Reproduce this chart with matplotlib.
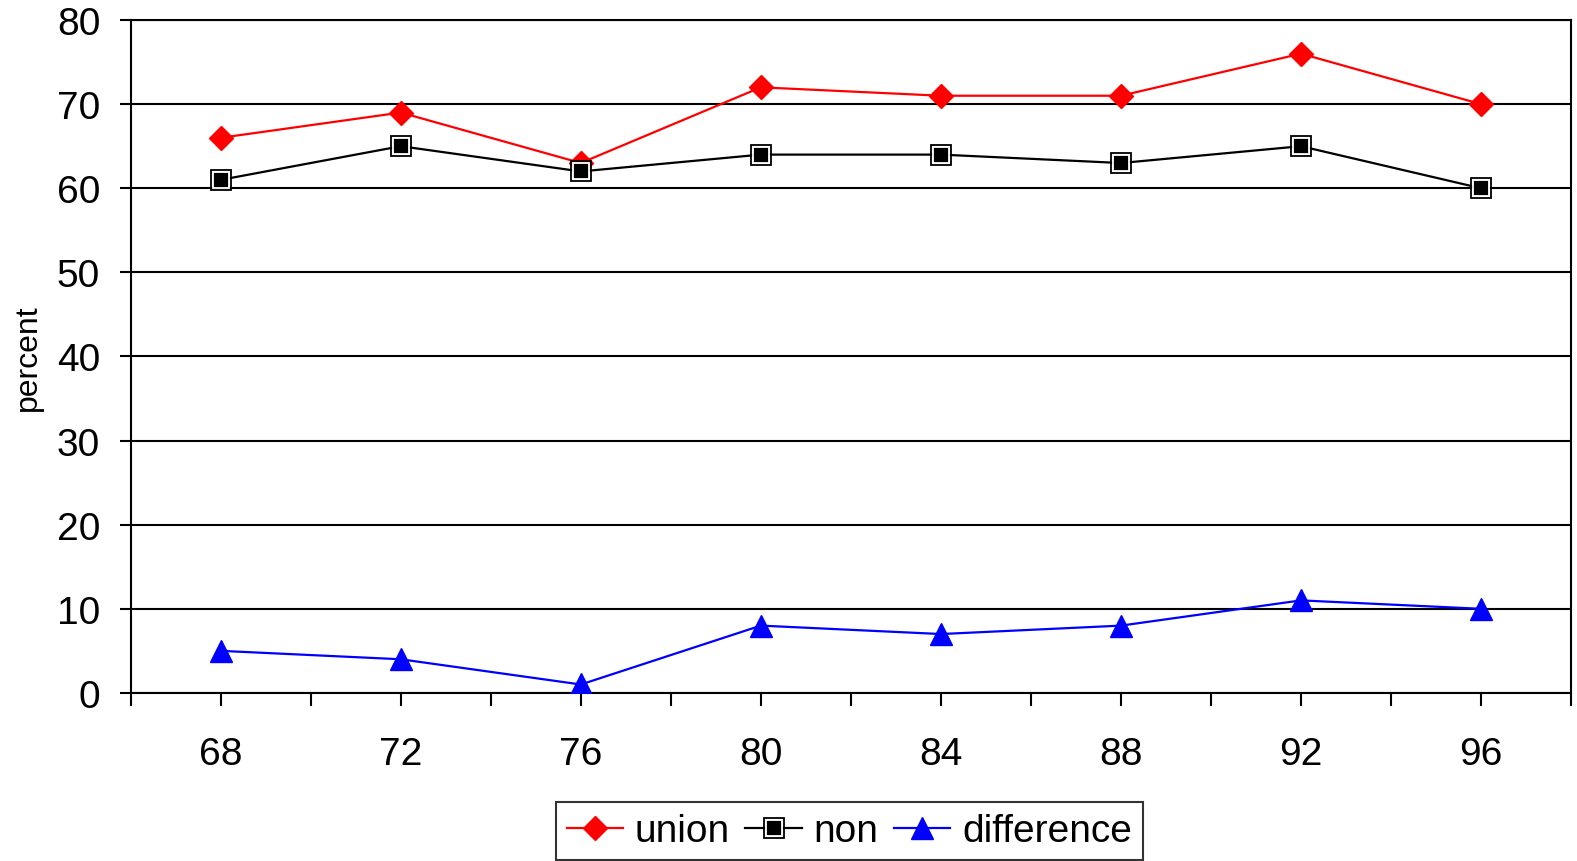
import numpy as np
import matplotlib.pyplot as plt
from matplotlib.legend_handler import HandlerTuple

# Chart values
years = ["68", "72", "76", "80", "84", "88", "92", "96"]
union = [66, 69, 63, 72, 71, 71, 76, 70]
non = [61, 65, 62, 64, 64, 63, 65, 60]
difference = [5, 4, 1, 8, 7, 8, 11, 10]

plt.rcParams["font.family"] = ["Liberation Sans", "DejaVu Sans"]

fig = plt.figure(figsize=(15.77, 8.62), dpi=100)
ax = fig.add_axes([0.0829, 0.195, 0.9133, 0.7806])

x = np.arange(len(years))

l_union, = ax.plot(x, union, color="#FF0000", lw=1.6, marker="D", ms=12,
                   mfc="#FF0000", mec="#FF0000", zorder=4)
l_non, = ax.plot(x, non, color="black", lw=1.6, marker="s", ms=11.5,
                 mfc="black", mec="white", mew=1.3, zorder=4)
l_non_edge, = ax.plot(x, non, ls="none", marker="s", ms=14,
                      mfc="none", mec="black", mew=1.3, zorder=5)
l_diff, = ax.plot(x, difference, color="#0000FF", lw=1.6, marker="^", ms=16,
                  mfc="#0000FF", mec="#0000FF", zorder=4)

ax.set_xlim(-0.5, len(years) - 0.5)
ax.set_ylim(0, 80)
ax.set_yticks(range(0, 81, 10))
ax.set_xticks(x)
ax.set_xticklabels(years)
ax.set_xticks(np.arange(-0.5, len(years), 1.0), minor=True)

ax.grid(axis="y", color="black", lw=1.5)
ax.set_axisbelow(True)
for s in ax.spines.values():
    s.set_linewidth(1.5)
    s.set_color("black")

ax.tick_params(axis="x", which="both", direction="out", length=9, width=1.5,
               labelsize=28, pad=22)
ax.tick_params(axis="y", direction="out", length=8, width=1.5,
               labelsize=28, pad=14)

ax.set_ylabel("percent", fontsize=23)
ax.yaxis.set_label_coords(-0.061, 0.5)

leg = fig.legend([l_union, (l_non, l_non_edge), l_diff],
                 ["union", "non", "difference"],
                 handler_map={tuple: HandlerTuple(ndivide=1)},
                 loc="center", bbox_to_anchor=(0.5385, 0.0345), ncol=3,
                 fontsize=28, frameon=True, fancybox=False, shadow=False,
                 handlelength=1.45, handletextpad=0.3, columnspacing=0.4,
                 borderpad=0.28, borderaxespad=0)
leg.get_frame().set_edgecolor("black")
leg.get_frame().set_linewidth(1.5)

fig.savefig("out.png", dpi=100)
